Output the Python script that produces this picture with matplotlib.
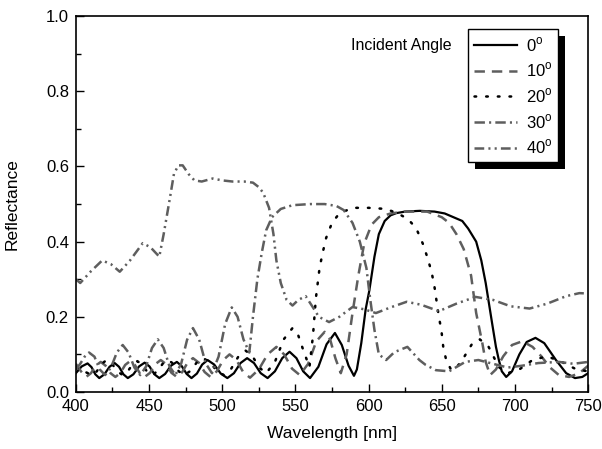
import matplotlib
matplotlib.use("Agg")
from matplotlib import pyplot as plt
from matplotlib.patches import Rectangle
from matplotlib.transforms import IdentityTransform
from matplotlib.ticker import MultipleLocator

plt.rcParams['font.family'] = ['Liberation Sans', 'DejaVu Sans']
plt.rcParams['mathtext.fontset'] = 'custom'
plt.rcParams['mathtext.rm'] = 'Liberation Sans'
plt.rcParams['lines.scale_dashes'] = False

# 0 deg, solid black
wl_0 = [400, 404, 408, 410.7, 413.3, 416, 419.5, 423, 426.5, 429.5, 432.5, 435.5,
        439.3, 443.2, 447, 450.3, 453.7, 457, 461, 465, 469, 472.3, 475.7, 479,
        482.7, 486.3, 490, 494.5, 499, 503.5, 508, 512.5, 517, 521.7, 526.3, 531,
        536, 541, 546, 550.7, 555.3, 560, 565.7, 571.3, 577, 581.7, 586.3, 590,
        592, 595, 598, 600.5, 604, 607, 611, 615, 619, 625, 635, 645, 652, 658,
        664, 668, 673.5, 677, 680, 684.5, 687, 689, 691, 694, 698, 703, 708, 714,
        720, 728, 735, 741, 746, 750]
r_0 = [0.050, 0.068, 0.076, 0.066, 0.047, 0.037, 0.047, 0.067, 0.077, 0.067, 0.047, 0.037,
       0.047, 0.068, 0.078, 0.068, 0.047, 0.037, 0.048, 0.070, 0.080, 0.069, 0.048, 0.037,
       0.049, 0.073, 0.085, 0.073, 0.049, 0.037, 0.050, 0.077, 0.090, 0.077, 0.050, 0.037,
       0.055, 0.090, 0.107, 0.090, 0.055, 0.037, 0.067, 0.127, 0.157, 0.125, 0.070, 0.043,
       0.060, 0.130, 0.220, 0.270, 0.360, 0.420, 0.455, 0.470, 0.476, 0.480, 0.482, 0.480, 0.475, 0.465,
       0.455, 0.435, 0.400, 0.350, 0.290, 0.180, 0.120, 0.085, 0.055, 0.040, 0.055, 0.100, 0.133, 0.144,
       0.130, 0.085, 0.050, 0.037, 0.040, 0.050]

# 10 deg, dashed grey
wl_10 = [400, 403.5, 407, 410.3, 413.7, 417, 420.3, 423.7, 427, 430.3, 433.7, 437,
         440.3, 443.7, 447, 450.7, 454.3, 458, 461.7, 465.3, 469, 472.7, 476.3, 480,
         484, 488, 492, 496.3, 500.7, 505, 509.7, 514.3, 519, 525, 531, 537, 542.3,
         547.7, 553, 558.7, 564.3, 570, 573.7, 577.3, 581, 585, 589, 593, 597, 602,
         607, 615, 625, 640, 650, 655, 660, 665, 670, 673.5, 677.7, 680, 683, 687,
         692, 698, 705, 712, 718, 724, 730, 737, 744, 750]
r_10 = [0.075, 0.055, 0.040, 0.050, 0.070, 0.080, 0.070, 0.050, 0.040, 0.050, 0.072, 0.082,
        0.072, 0.050, 0.040, 0.051, 0.074, 0.085, 0.074, 0.051, 0.040, 0.053, 0.078, 0.090,
        0.078, 0.053, 0.040, 0.055, 0.085, 0.100, 0.085, 0.053, 0.038, 0.060, 0.100, 0.120,
        0.100, 0.062, 0.045, 0.075, 0.135, 0.160, 0.140, 0.090, 0.050, 0.100, 0.210, 0.310, 0.395, 0.445,
        0.465, 0.475, 0.480, 0.480, 0.465, 0.450, 0.420, 0.380, 0.310, 0.210, 0.130, 0.080, 0.045, 0.060,
        0.095, 0.125, 0.135, 0.120, 0.095, 0.065, 0.045, 0.040, 0.050, 0.070]

# 20 deg, dotted black
wl_20 = [400, 405.5, 411, 414.3, 417.7, 421, 424.7, 428.3, 432, 435.3, 438.7, 442,
         445.3, 448.7, 452, 455.7, 459.3, 463, 466.7, 470.3, 474, 478.3, 482.7, 487,
         491.7, 496.3, 501, 506, 511, 516, 520.7, 525.3, 530, 536, 542, 548, 552,
         555.5, 559.6, 562, 564, 566.5, 568.6, 571, 575, 580, 589, 600, 612, 620,
         627, 632.6, 637, 640, 643, 645, 646.5, 648, 649.7, 651, 653, 656.5, 660,
         664, 671, 676, 682, 689, 695, 703, 712, 722, 732, 742, 750]
r_20 = [0.065, 0.055, 0.045, 0.055, 0.075, 0.085, 0.075, 0.055, 0.045, 0.054, 0.073, 0.082,
        0.073, 0.054, 0.045, 0.055, 0.075, 0.085, 0.075, 0.055, 0.045, 0.056, 0.079, 0.090,
        0.079, 0.056, 0.045, 0.061, 0.094, 0.110, 0.095, 0.065, 0.050, 0.080, 0.140, 0.170, 0.150,
        0.110, 0.066, 0.150, 0.250, 0.330, 0.370, 0.410, 0.450, 0.475, 0.490, 0.490, 0.487, 0.475,
        0.460, 0.435, 0.395, 0.360, 0.320, 0.280, 0.240, 0.200, 0.165, 0.120, 0.085, 0.058, 0.065,
        0.085, 0.130, 0.140, 0.120, 0.066, 0.050, 0.060, 0.085, 0.095, 0.080, 0.060, 0.055]

# 30 deg, dash-dot grey
wl_30 = [400, 403, 406, 409, 412.7, 416.3, 420, 424, 428, 432, 436, 440, 444,
         448, 452, 456, 460, 464, 468, 472, 476, 480, 484.3, 488.7, 493, 497.5,
         502, 506.5, 510.5, 514.5, 518.5, 521, 524, 527, 530, 534, 540, 548, 560,
         570, 578, 583, 589, 594, 598.5, 601, 604, 607, 612, 617.6, 626.5, 634.7,
         639, 646, 655, 666, 675, 685, 695, 705, 716, 730, 740, 750]
r_30 = [0.060, 0.075, 0.094, 0.105, 0.094, 0.060, 0.045, 0.065, 0.105, 0.125, 0.105, 0.065, 0.045,
        0.068, 0.117, 0.140, 0.117, 0.068, 0.045, 0.076, 0.139, 0.170, 0.139, 0.076, 0.050, 0.094,
        0.181, 0.225, 0.200, 0.140, 0.105, 0.200, 0.300, 0.370, 0.430, 0.465, 0.487, 0.497, 0.500,
        0.500, 0.495, 0.484, 0.450, 0.400, 0.330, 0.250, 0.165, 0.100, 0.085, 0.106, 0.120, 0.085,
        0.072, 0.058, 0.055, 0.080, 0.085, 0.075, 0.065, 0.070, 0.077, 0.080, 0.075, 0.080]

# 40 deg, dash-dot-dot grey
wl_40 = [400, 403, 410, 418, 424, 430, 437, 445.7, 451, 457, 460, 464, 467, 470,
         473, 477, 481, 486, 493.5, 500, 507, 515, 521, 525, 528, 532, 535, 537,
         540, 544, 548, 552, 557, 562, 566, 573, 580, 589, 597, 605, 615, 626, 636,
         648, 660, 673, 685, 697, 710, 722, 735, 744, 750]
r_40 = [0.300, 0.290, 0.320, 0.350, 0.340, 0.320, 0.350, 0.396, 0.385, 0.360, 0.420, 0.510,
        0.580, 0.603, 0.603, 0.580, 0.563, 0.560, 0.568, 0.563, 0.560, 0.560, 0.557, 0.545,
        0.530, 0.490, 0.420, 0.350, 0.290, 0.245, 0.230, 0.245, 0.255, 0.225, 0.200, 0.186,
        0.200, 0.226, 0.220, 0.210, 0.225, 0.240, 0.232, 0.215, 0.235, 0.253, 0.245, 0.228,
        0.222, 0.235, 0.255, 0.263, 0.262]

labels = ['0$^\\mathrm{o}$', '10$^\\mathrm{o}$', '20$^\\mathrm{o}$',
          '30$^\\mathrm{o}$', '40$^\\mathrm{o}$']

grey = '#5e5e5e'
fig = plt.figure(figsize=(6.02, 4.49), dpi=100)
ax = fig.add_axes([0.126, 0.127, 0.851, 0.837])

ax.plot(wl_0, r_0, color='black', lw=1.6, label=labels[0])
ax.plot(wl_10, r_10, color=grey, lw=1.8, linestyle=(0, (7.5, 5)), label=labels[1])
ax.plot(wl_20, r_20, color='black', lw=1.8, linestyle=(0, (1.2, 7.2)),
        dash_capstyle='round', label=labels[2])
ax.plot(wl_30, r_30, color=grey, lw=1.8, linestyle=(0, (7.5, 3, 1.5, 3)), label=labels[3])
ax.plot(wl_40, r_40, color=grey, lw=1.8, linestyle=(0, (7, 3, 1.5, 3, 1.5, 3)),
        label=labels[4])

ax.set_xlim(400, 750)
ax.set_ylim(0.0, 1.0)
ax.xaxis.set_major_locator(MultipleLocator(50))
ax.xaxis.set_minor_locator(MultipleLocator(25))
ax.yaxis.set_major_locator(MultipleLocator(0.2))
ax.yaxis.set_minor_locator(MultipleLocator(0.1))
ax.yaxis.set_major_formatter(matplotlib.ticker.FormatStrFormatter('%.1f'))
ax.tick_params(which='both', direction='in', top=False, right=False,
               labelsize=12, width=1.0)
ax.tick_params(which='major', length=6, pad=5)
ax.tick_params(which='minor', length=3.5)
for s in ax.spines.values():
    s.set_linewidth(1.2)

ax.set_xlabel('Wavelength [nm]', fontsize=12.5, labelpad=9)
ax.set_ylabel('Reflectance', fontsize=12.5, labelpad=19)

leg = ax.legend(loc='upper left', bbox_to_anchor=(0.766, 0.965), borderaxespad=0,
                fontsize=12, handlelength=2.6, handletextpad=0.5, labelspacing=0.42,
                borderpad=0.35, fancybox=False, framealpha=1, edgecolor='black')
leg.get_frame().set_linewidth(1.0)
ax.text(0.734, 0.922, 'Incident Angle', transform=ax.transAxes, ha='right',
        va='center', fontsize=11.5)

fig.canvas.draw()
bb = leg.get_window_extent()
ax.add_patch(Rectangle((bb.x0 + 7, bb.y0 - 7), bb.width, bb.height,
                       transform=IdentityTransform(), facecolor='black',
                       edgecolor='none', zorder=4.5, clip_on=False))

fig.savefig('out.png', dpi=100)
